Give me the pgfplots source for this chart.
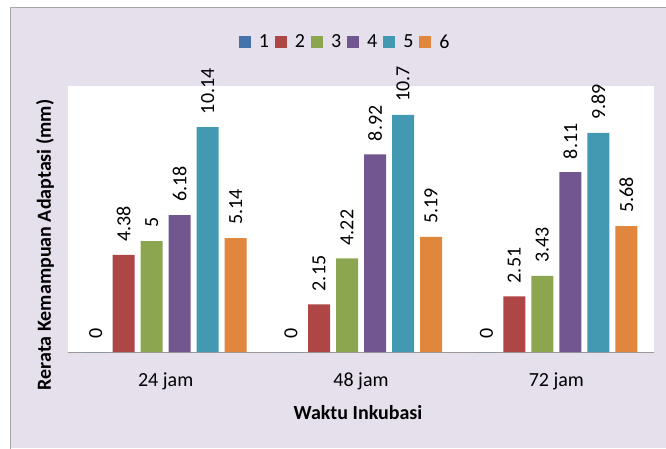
\documentclass[border=0pt]{standalone}
\usepackage{pgfplots}
\pgfplotsset{compat=1.18}
\usepackage{fontspec}
\setmainfont{Carlito}
\definecolor{bgl}{HTML}{E5E0EC}
\definecolor{cA}{HTML}{4473AC}
\definecolor{cB}{HTML}{AE4646}
\definecolor{cC}{HTML}{8CA650}
\definecolor{cD}{HTML}{71568F}
\definecolor{cE}{HTML}{4399B1}
\definecolor{cF}{HTML}{E0863D}
\begin{document}
\begin{tikzpicture}[x=1pt,y=1pt]
\useasboundingbox (0,0) rectangle (666,448);
\fill[white] (0,0) rectangle (666,448);
\fill[bgl] (10,0) rectangle (666,440);
\draw[gray!70, line width=1pt] (10,-1) -- (10,440) -- (667,440);
\begin{axis}[
  at={(68pt,96pt)}, anchor=south west,
  scale only axis, width=586pt, height=266pt,
  xmin=-0.5, xmax=2.5, ymin=0, ymax=12,
  ybar=6pt, bar width=22pt,
  axis x line*=bottom, axis y line=none,
  axis line style={-, draw=gray!80, line width=0.8pt},
  axis background/.style={fill=white},
  xtick=data, xticklabels={24 jam,48 jam,72 jam},
  major tick length=0pt,
  ytick=\empty,
  xticklabel style={font=\fontsize{20}{24}\selectfont, yshift=-17pt},
  /pgf/number format/assume math mode=true,
  nodes near coords,
  every node near coord/.append style={font=\fontsize{20}{24}\selectfont, rotate=90, anchor=west, inner xsep=13pt, inner ysep=0pt, text=black},
  legend columns=6,
  legend style={at={(0.473,1.165)}, anchor=center, draw=none, fill=none, font=\fontsize{20}{24}\selectfont,
    /tikz/every even column/.append style={column sep=4pt},
    /tikz/every odd column/.append style={column sep=6pt}},
  legend image code/.code={\fill[#1] (0pt,-6pt) rectangle (12pt,6pt);},
]
\addplot[fill=cA, draw=none] coordinates {(0,0) (1,0) (2,0)};
\addplot[fill=cB, draw=none] coordinates {(0,4.38) (1,2.15) (2,2.51)};
\addplot[fill=cC, draw=none] coordinates {(0,5) (1,4.22) (2,3.43)};
\addplot[fill=cD, draw=none] coordinates {(0,6.18) (1,8.92) (2,8.11)};
\addplot[fill=cE, draw=none] coordinates {(0,10.14) (1,10.7) (2,9.89)};
\addplot[fill=cF, draw=none] coordinates {(0,5.14) (1,5.19) (2,5.68)};
\legend{1,2,3,4,5,6}
\end{axis}
\node[rotate=90, font=\fontsize{20}{24}\selectfont\bfseries] at (45,203) {Rerata Kemampuan Adaptasi (mm)};
\node[font=\fontsize{20}{24}\selectfont\bfseries] at (358,35) {Waktu Inkubasi};
\end{tikzpicture}
\end{document}
